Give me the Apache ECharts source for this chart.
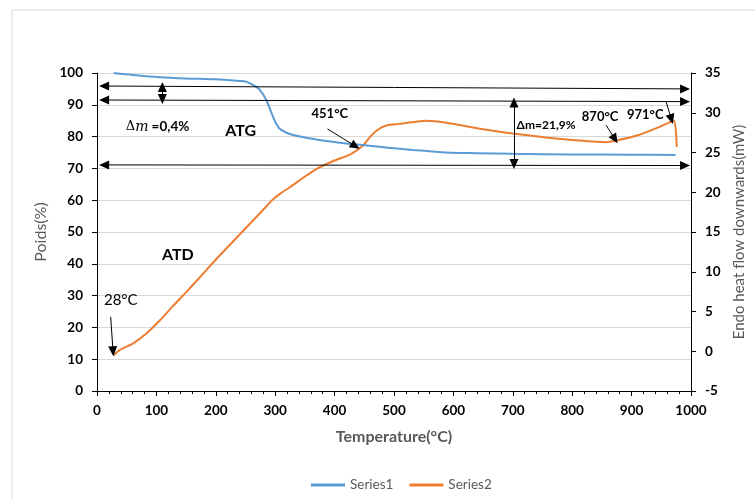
<!DOCTYPE html>
<html>
<head>
<meta charset="utf-8">
<script src="https://cdn.jsdelivr.net/npm/echarts@6/dist/echarts.min.js"></script>
<style>
  html, body { margin: 0; padding: 0; background: #fff; }
  #chart { width: 755px; height: 499px; }
</style>
</head>
<body>
<div id="chart"></div>
<script>
// TGA curve (Series1, left axis, %)
var tgaTemp = [28, 60, 106, 150, 200, 240, 251, 263, 274, 285, 294, 302, 310, 330, 369, 408, 440, 476, 500, 531, 560, 588, 640, 700, 800, 900, 974];
var tgaMass = [100, 99.4, 98.7, 98.3, 98.0, 97.5, 97.3, 96.2, 94.7, 91.5, 87.3, 84.0, 82.1, 80.5, 79.1, 78.1, 77.5, 76.8, 76.3, 75.8, 75.4, 75.0, 74.8, 74.6, 74.4, 74.3, 74.2];

// DTA curve (Series2, right axis, mW)
var dtaTemp = [28, 39, 61, 84, 106, 128, 151, 173, 201, 229, 257, 285, 296, 308, 324, 341, 369, 397, 425, 436, 448, 459, 470, 480, 492, 509, 554, 588, 644, 700, 756, 812, 857, 874, 912, 946, 971, 976];
var dtaFlow = [-0.5, 0.2, 1.0, 2.3, 3.9, 5.7, 7.5, 9.3, 11.6, 13.8, 16.0, 18.2, 19.1, 19.8, 20.6, 21.5, 22.9, 23.9, 24.7, 25.2, 25.9, 26.9, 27.7, 28.2, 28.5, 28.6, 29.0, 28.75, 28.0, 27.4, 26.9, 26.5, 26.3, 26.5, 27.2, 28.2, 29.0, 25.7];

var seriesNames = ['Series1', 'Series2'];

// annotation arrows in data coords (temperature, left axis %): [x1, y1, x2, y2, both ends?]
var arrows = [
  [12, 95.9, 990, 95.0, true],
  [12, 91.5, 990, 91.0, true],
  [12, 71.1, 990, 70.9, true],
  [110, 95.6, 110, 91.8, true],
  [702, 90.7, 702, 71.4, true],
  [388, 82.4, 435, 77.0, false],
  [23, 23.3, 27, 12.5, false],
  [857, 83.6, 872, 79.2, false],
  [958, 91.0, 967, 85.5, false]
];

// annotation texts in data coords
var notes = [
  { text: '{d|Δ}{i|m} {b|=0,4%}', x: 102, y: 83.0 },
  { text: '{h|ATG}', x: 242, y: 81.8 },
  { text: '{s|451°C}', x: 392, y: 87.1 },
  { text: '{h|ATD}', x: 136, y: 42.8 },
  { text: '{r|28°C}', x: 40, y: 28.6 },
  { text: '{t|Δm=21,9%}', x: 756, y: 83.6 },
  { text: '{s|870°C}', x: 847, y: 86.2 },
  { text: '{s|971°C}', x: 923, y: 86.8 }
];

function pairs(xs, ys) {
  return xs.map(function (x, i) { return [x, ys[i]]; });
}

var FONT = 'Lato, "Open Sans", sans-serif';

var arrowData = arrows.map(function (a) {
  return [
    { coord: [a[0], a[1]], symbol: a[4] ? 'triangle' : 'none' },
    { coord: [a[2], a[3]], symbol: 'triangle' }
  ];
});

var noteData = notes.map(function (n) {
  return { coord: [n.x, n.y], value: n.text };
});

var chart = echarts.init(document.getElementById('chart'), null, { renderer: 'canvas' });

var option = {
  backgroundColor: '#fff',
  animation: false,
  textStyle: { fontFamily: FONT },
  graphic: [{
    type: 'rect',
    shape: { x: 12, y: 10, width: 780, height: 520 },
    style: { fill: 'none', stroke: '#d9d9d9', lineWidth: 1 },
    silent: true
  }],
  grid: { left: 97, right: 63, top: 73, bottom: 108 },
  legend: {
    data: seriesNames,
    left: 306,
    top: 473,
    icon: 'rect',
    itemWidth: 34,
    itemHeight: 3,
    itemGap: 16,
    textStyle: { color: '#595959', fontSize: 13.5, fontFamily: FONT }
  },
  xAxis: {
    type: 'value',
    min: 0,
    max: 1000,
    interval: 100,
    name: 'Temperature(°C)',
    nameLocation: 'middle',
    nameGap: 38,
    nameTextStyle: { color: '#595959', fontSize: 16, fontWeight: 'bold' },
    axisLine: { show: true, onZero: false, lineStyle: { color: '#000', width: 1 } },
    axisTick: { show: true, inside: false, length: 5, lineStyle: { color: '#000' } },
    minorTick: { show: true, splitNumber: 5, length: 3, lineStyle: { color: '#000' } },
    axisLabel: { color: '#000', fontSize: 13.5, fontWeight: 'bold', margin: 13, formatter: function (v) { return String(v); } },
    splitLine: { show: false }
  },
  yAxis: [{
    type: 'value',
    min: 0,
    max: 100,
    interval: 10,
    name: 'Poids(%)',
    nameLocation: 'middle',
    nameGap: 40,
    nameTextStyle: { color: '#595959', fontSize: 16 },
    axisLine: { show: true, lineStyle: { color: '#000', width: 1 } },
    axisTick: { show: true, length: 5, lineStyle: { color: '#000' } },
    axisLabel: { color: '#000', fontSize: 13.5, fontWeight: 'bold', margin: 14 },
    splitLine: { show: true, lineStyle: { color: '#d9d9d9', width: 1 } }
  }, {
    type: 'value',
    position: 'right',
    min: -5,
    max: 35,
    interval: 5,
    name: 'Endo heat flow downwards(mW)',
    nameLocation: 'middle',
    nameGap: 41,
    nameRotate: 90,
    nameTextStyle: { color: '#595959', fontSize: 15 },
    axisLine: { show: true, lineStyle: { color: '#000', width: 1 } },
    axisTick: { show: true, length: 5, lineStyle: { color: '#000' } },
    axisLabel: { color: '#000', fontSize: 13.5, fontWeight: 'bold', margin: 14 },
    splitLine: { show: false }
  }],
  series: [{
    name: seriesNames[0],
    type: 'line',
    yAxisIndex: 0,
    data: pairs(tgaTemp, tgaMass),
    smooth: 0.3,
    showSymbol: false,
    symbol: 'none',
    color: '#5b9bd5',
    lineStyle: { color: '#5b9bd5', width: 2 },
    z: 3,
    markLine: {
      silent: true,
      animation: false,
      symbolSize: [9, 10],
      label: { show: false },
      lineStyle: { color: '#000', width: 1, type: 'solid' },
      emphasis: { disabled: true },
      data: arrowData
    },
    markPoint: {
      silent: true,
      symbol: 'rect',
      symbolSize: 1,
      itemStyle: { color: 'rgba(0,0,0,0)' },
      label: {
        show: true,
        position: 'inside',
        formatter: function (p) { return p.value; },
        rich: {
          d: { fontFamily: '"DejaVu Serif", serif', fontSize: 13, color: '#000' },
          i: { fontFamily: '"DejaVu Serif", serif', fontStyle: 'italic', fontSize: 14, color: '#000' },
          b: { fontFamily: FONT, fontWeight: 'bold', fontSize: 13.5, color: '#000' },
          h: { fontFamily: FONT, fontWeight: 'bold', fontSize: 16, color: '#000' },
          s: { fontFamily: FONT, fontWeight: 'bold', fontSize: 13, color: '#000' },
          t: { fontFamily: FONT, fontWeight: 'bold', fontSize: 12, color: '#000' },
          r: { fontFamily: FONT, fontSize: 15, color: '#000' }
        }
      },
      data: noteData
    }
  }, {
    name: seriesNames[1],
    type: 'line',
    yAxisIndex: 1,
    data: pairs(dtaTemp, dtaFlow),
    smooth: 0.2,
    showSymbol: false,
    symbol: 'none',
    color: '#ed7d31',
    lineStyle: { color: '#ed7d31', width: 2 },
    z: 2
  }]
};

chart.setOption(option);
</script>
</body>
</html>
